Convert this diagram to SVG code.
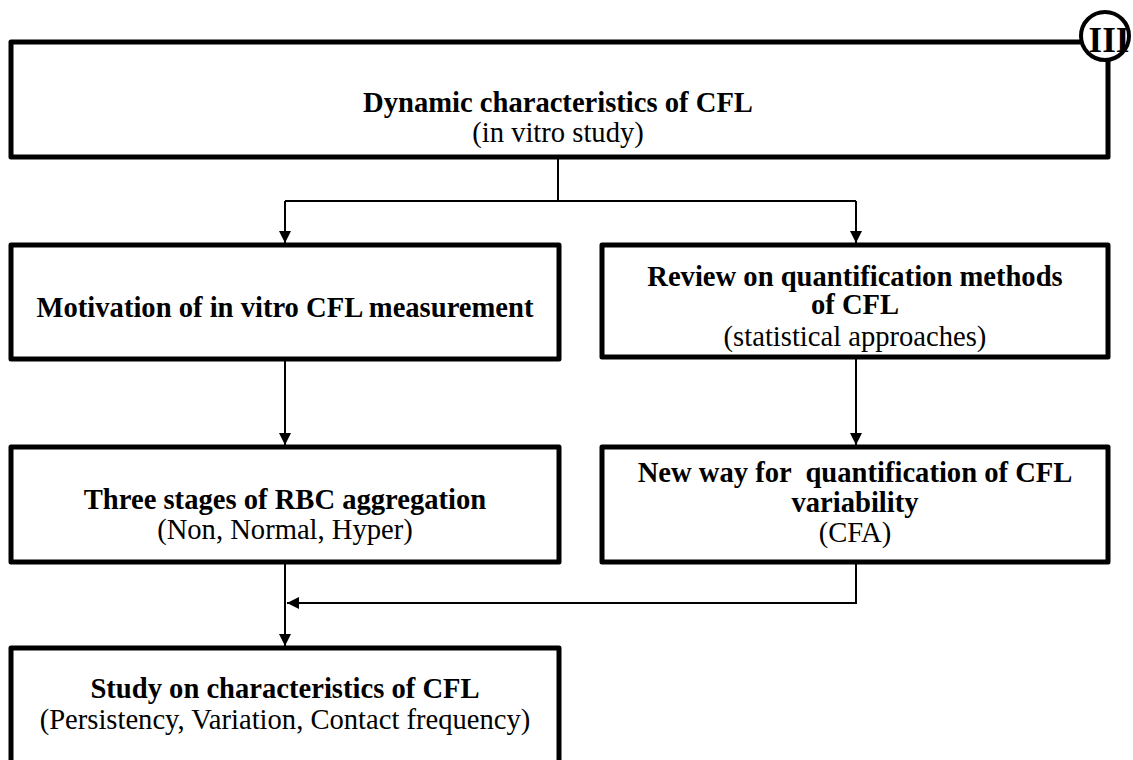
<svg xmlns="http://www.w3.org/2000/svg" width="1133" height="760" viewBox="0 0 1133 760">
<style>
.box{fill:#fff;stroke:#000;stroke-width:5;stroke-linejoin:round}
.t{font-family:"Liberation Serif","Times New Roman",serif;font-size:28.6px;text-anchor:middle;fill:#000}
.b{font-weight:bold}
.c{fill:none;stroke:#000;stroke-width:2}
</style>
<defs>
<marker id="arr" viewBox="0 0 12 12" refX="12" refY="6" markerWidth="12" markerHeight="12" markerUnits="userSpaceOnUse" orient="auto">
<path d="M0,0 L12,6 L0,12 Z" fill="#000"/>
</marker>
</defs>
<rect width="1133" height="760" fill="#fff"/>
<g id="connectors">
<path class="c" d="M558,157 V201 M285,201 H856"/>
<path class="c" d="M285,201 V243" marker-end="url(#arr)"/>
<path class="c" d="M856,201 V243" marker-end="url(#arr)"/>
<path class="c" d="M285,359 V445" marker-end="url(#arr)"/>
<path class="c" d="M856,357 V445" marker-end="url(#arr)"/>
<path class="c" d="M285,562 V646" marker-end="url(#arr)"/>
<path class="c" d="M856,562 V603 H287" marker-end="url(#arr)"/>
</g>
<g id="n_top">
<rect class="box" x="11" y="42" width="1097" height="115"/>
<text class="t b" x="558" y="112">Dynamic characteristics of CFL</text>
<text class="t" x="558" y="142">(in vitro study)</text>
</g>
<g id="n_badge">
<circle cx="1105" cy="36" r="24" fill="#fff" stroke="#000" stroke-width="4"/>
<text class="t b" x="1109" y="52" style="font-size:35px">III</text>
</g>
<g id="n_motivation">
<rect class="box" x="11" y="245" width="548" height="114"/>
<text class="t b" x="285" y="317">Motivation of in vitro CFL measurement</text>
</g>
<g id="n_review">
<rect class="box" x="602" y="245" width="506" height="112"/>
<text class="t b" x="855" y="286">Review on quantification methods</text>
<text class="t b" x="855" y="314">of CFL</text>
<text class="t" x="855" y="346">(statistical approaches)</text>
</g>
<g id="n_three">
<rect class="box" x="11" y="447" width="548" height="115"/>
<text class="t b" x="285" y="509">Three stages of RBC aggregation</text>
<text class="t" x="285" y="539">(Non, Normal, Hyper)</text>
</g>
<g id="n_newway">
<rect class="box" x="602" y="447" width="506" height="115"/>
<text class="t b" x="855" y="482" style="white-space:pre">New way for  quantification of CFL</text>
<text class="t b" x="855" y="512">variability</text>
<text class="t" x="855" y="542">(CFA)</text>
</g>
<g id="n_study">
<rect class="box" x="11" y="648" width="548" height="120"/>
<text class="t b" x="285" y="698">Study on characteristics of CFL</text>
<text class="t" x="285" y="729">(Persistency, Variation, Contact frequency)</text>
</g>
</svg>
